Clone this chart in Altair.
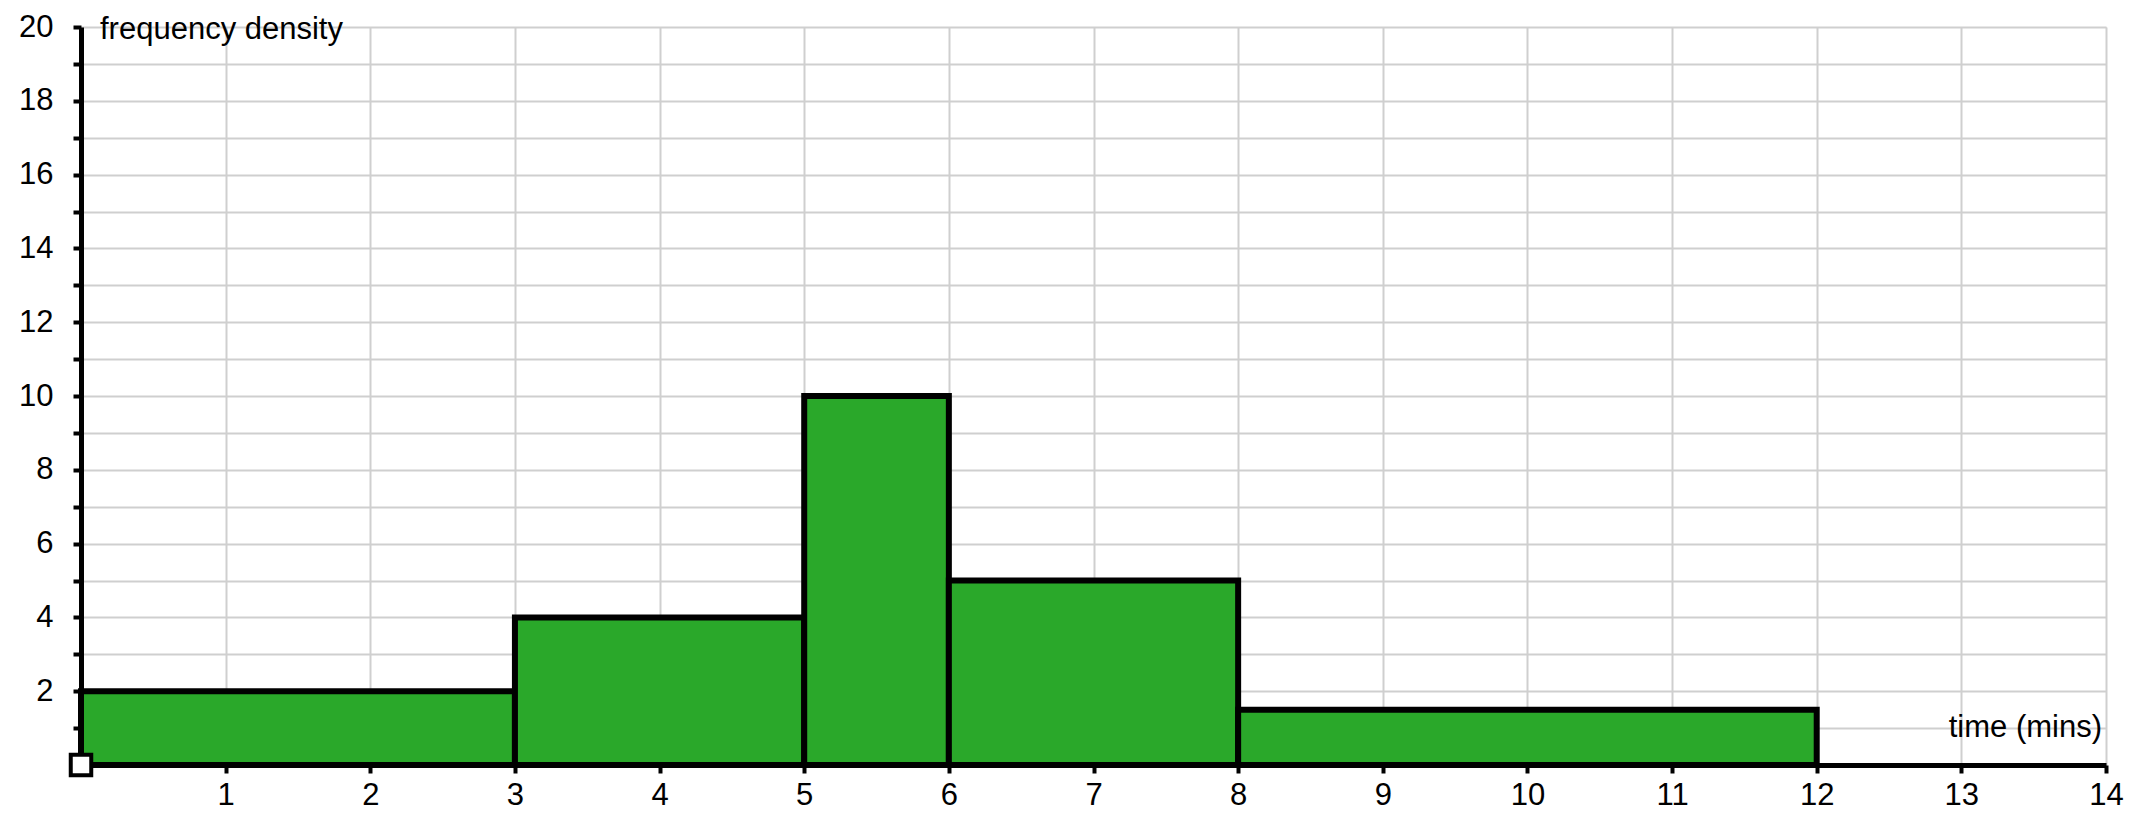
import altair as alt
import pandas as pd

# Histogram data
bin_start = [0, 3, 5, 6, 8]
bin_end = [3, 5, 6, 8, 12]
density = [2, 4, 10, 5, 1.5]

x_ticks = list(range(0, 15))
y_ticks = list(range(0, 21))

y_title = "frequency density"
x_title = "time (mins)"

FONT = "Liberation Sans"
FS = 31

bars_df = pd.DataFrame({"x": bin_start, "x2": bin_end, "y": density, "y0": [0] * len(density)})
ytitle_df = pd.DataFrame({"x": [0], "y": [20], "t": [y_title]})
xtitle_df = pd.DataFrame({"x": [14], "y": [1.0], "t": [x_title]})
origin_df = pd.DataFrame({"x": [0], "y": [0]})

x_scale = alt.Scale(domain=[0, 14], nice=False, zero=False)
y_scale = alt.Scale(domain=[0, 20], nice=False, zero=False)

x_axis = alt.Axis(
    values=x_ticks, title=None,
    labelExpr="datum.value > 0 ? datum.label : ''",
    labelFont=FONT, labelFontSize=FS, labelColor="black", labelPadding=7,
    labelFlush=False, labelOverlap=False,
    tickSize=8, tickWidth=4, tickColor="black",
    domainColor="black", domainWidth=5,
    grid=True, gridColor="#cfcfcf", gridWidth=2,
)
y_axis = alt.Axis(
    values=y_ticks, title=None,
    labelExpr="(datum.value > 0 && datum.value % 2 == 0) ? datum.label : ''",
    labelFont=FONT, labelFontSize=FS, labelColor="black", labelPadding=20,
    labelFlush=False, labelOverlap=False,
    tickSize=8, tickWidth=4, tickColor="black",
    domainColor="black", domainWidth=5,
    grid=True, gridColor="#cfcfcf", gridWidth=2,
)

X = alt.X("x:Q", scale=x_scale, axis=x_axis)
Y = alt.Y("y:Q", scale=y_scale, axis=y_axis)

bars = alt.Chart(bars_df).mark_rect(
    fill="#2aa82a", stroke="black", strokeWidth=6
).encode(x=X, x2="x2:Q", y=Y, y2="y0:Q")

ytitle = alt.Chart(ytitle_df).mark_text(
    align="left", baseline="middle", dx=19, dy=3,
    font=FONT, fontSize=FS, color="black"
).encode(x=X, y=Y, text="t:N")

xtitle = alt.Chart(xtitle_df).mark_text(
    align="right", baseline="middle", dx=-4,
    font=FONT, fontSize=FS, color="black"
).encode(x=X, y=Y, text="t:N")

origin = alt.Chart(origin_df).mark_square(
    size=420, filled=True, fill="white", stroke="black", strokeWidth=4, opacity=1
).encode(x=X, y=Y)

chart = alt.layer(bars, ytitle, xtitle, origin).properties(
    width=2025, height=738,
    padding={"left": 73, "top": 19, "right": 19, "bottom": 51},
    autosize=alt.AutoSizeParams(type="none"),
).configure_view(stroke=None).configure(background="white")

chart.save("out.html", embed_options={"renderer": "svg", "actions": False})
